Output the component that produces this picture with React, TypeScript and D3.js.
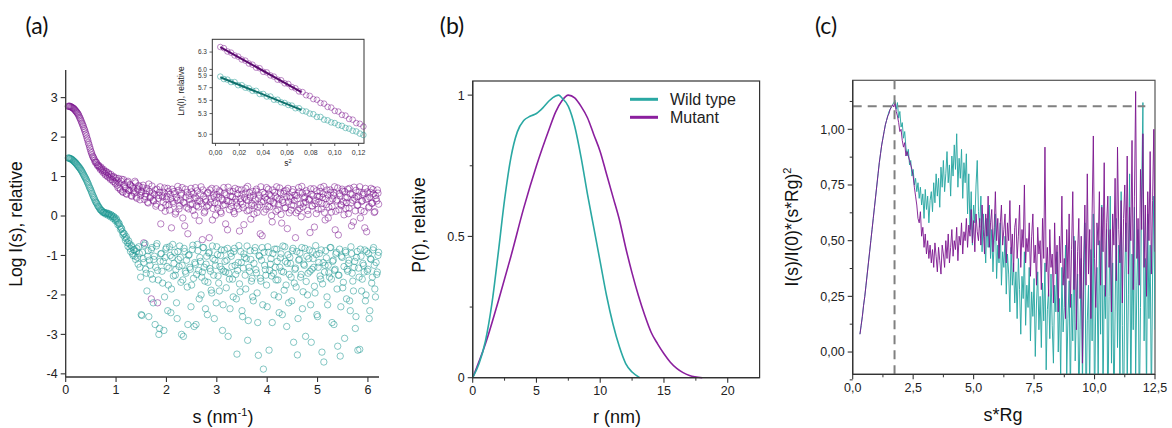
import React from "react";
import * as d3 from "d3";

// ---- data ----
// (a) SAXS curves, log I(s). Two interleaved frames:
// frame 1 at s = sStart + i * sStep, frame 2 at s = sStart2 + i * sStep
const sStart = 0.05;
const sStart2 = 0.0625;
const sStep = 0.025;
const mutantLogI = [
  2.78, 2.78, 2.77, 2.75, 2.73, 2.70, 2.66, 2.62, 2.57, 2.50, 2.43, 2.35, 2.27, 2.18, 2.08, 1.97, 1.86, 1.75, 1.64, 1.55,
  1.48, 1.41, 1.37, 1.30, 1.29, 1.22, 1.24, 1.15, 1.18, 1.08, 1.13, 1.02, 1.09, 0.97, 1.05, 0.92, 1.00, 0.86, 0.96,
  0.78, 0.95, 0.70, 0.88, 0.62, 0.92, 0.74, 0.57, 0.85, 0.66,
  0.80, 0.52, 0.74, 0.63, 0.88, 0.48, 0.69, 0.77, 0.41, 0.62,
  0.72, -0.68, 0.50, 0.64, 0.35, 0.81, 0.46, -2.10, 0.58, 0.38,
  0.66, 0.30, -2.20, 0.52, 0.74, 0.21, 0.48, 0.60, 0.12, 0.43,
  0.70, 0.28, 0.55, -0.30, 0.36, 0.62, 0.05, 0.47, 0.75, 0.18,
  0.40, 0.58, -0.05, 0.33, 0.68, 0.22, -0.45, 0.52, 0.29, 0.61,
  0.14, 0.45, 0.72, 0.26, 0.38, -0.12, 0.56, 0.31, 0.66, 0.08,
  0.42, 0.24, 0.60, -0.55, 0.35, 0.70, 0.19, 0.48, 0.02, 0.54,
  0.30, 0.64, 0.11, 0.44, 0.27, 0.58, -0.20, 0.39, 0.73, 0.16,
  0.50, 0.34, 0.62, 0.06, 0.43, 0.25, 0.67, -0.38, 0.36, 0.55,
  0.21, 0.47, 0.70, 0.13, 0.39, 0.59, -0.08, 0.32, 0.52, 0.26,
  0.63, 0.09, 0.45, 0.28, 0.74, -0.50, 0.37, 0.56, 0.17, 0.42,
  0.68, 0.23, 0.51, -0.15, 0.34, 0.60, 0.12, 0.46, 0.29, 0.71,
  0.04, 0.40, 0.57, 0.20, 0.65, -0.32, 0.37, 0.49, 0.15, 0.61,
  0.27, 0.53, 0.08, 0.44, 0.72, 0.19, -0.02, 0.58, 0.33, 0.48,
  0.64, 0.14, 0.41, -0.42, 0.55, 0.25, 0.69, 0.31, 0.06, 0.50,
  0.36, 0.62, 0.18, 0.47, 0.75, -0.10, 0.29, 0.54, 0.22, 0.66,
  0.10, 0.43, 0.59, -0.35, 0.38, 0.71, 0.16, 0.51, 0.26, 0.63,
  0.03, 0.46, 0.34, 0.68, 0.20, 0.57, -0.25, 0.40, 0.73, 0.13,
  0.49, 0.28, 0.61, -0.05, 0.37, 0.55, 0.11, 0.70, -0.40, 0.44,
  0.24, 0.60, 0.32, 0.67, 0.09, 0.52, 0.38, 0.58,
];
const mutantLogI2 = [
  2.78, 2.78, 2.76, 2.74, 2.72, 2.68, 2.64, 2.60, 2.54, 2.47, 2.39, 2.31, 2.22, 2.13, 2.03, 1.92, 1.81, 1.70, 1.60, 1.51,
  1.45, 1.36, 1.35, 1.27, 1.26, 1.18, 1.20, 1.11, 1.14, 1.04, 1.10, 0.99, 1.05, 0.93, 1.00, 0.88, 0.97, 0.82,
  0.90, 0.72, 0.84, 0.66, 0.93, 0.60, 0.80, 0.70, 0.55, 0.88,
  0.64, 0.78, 0.50, 0.70, 0.58, 0.84, 0.45, 0.66, 0.74, 0.52,
  0.60, 0.78, 0.42, 0.56, 0.70, 0.33, 0.62, 0.50, 0.76, 0.40,
  0.55, 0.25, 0.68, 0.45, 0.60, -0.20, 0.52, 0.35, 0.71, 0.28,
  0.50, 0.62, 0.15, 0.44, 0.68, 0.32, 0.57, 0.10, 0.40, 0.65,
  0.26, 0.53, 0.72, 0.35, -0.25, 0.48, 0.60, 0.18, 0.42, 0.70,
  0.31, 0.56, 0.02, 0.46, 0.64, 0.23, 0.38, 0.74, -0.60, 0.50,
  0.12, 0.36, 0.58, 0.27, 0.66, 0.44, -0.10, 0.52, 0.33, 0.69,
  0.20, 0.47, 0.61, 0.07, 0.40, 0.72, 0.29, 0.54, -0.35, 0.37,
  0.63, 0.24, 0.49, 0.11, 0.70, 0.35, 0.56, 0.18, 0.44, 0.66,
  0.30, -0.22, 0.58, 0.41, 0.75, 0.15, 0.48, 0.27, 0.62, 0.05,
  0.43, 0.68, 0.22, 0.53, -0.45, 0.36, 0.60, 0.10, 0.47, 0.72,
  0.25, 0.55, 0.38, 0.01, 0.66, 0.31, 0.50, 0.74, 0.16, 0.42,
  0.59, -0.18, 0.34, 0.63, 0.21, 0.48, 0.70, 0.08, 0.45, 0.28,
  0.67, 0.39, -0.55, 0.52, 0.14, 0.61, 0.30, 0.75, 0.23, 0.46,
  0.35, 0.58, 0.04, 0.43, 0.69, 0.26, 0.51, -0.28, 0.40, 0.64,
  0.17, 0.49, 0.72, 0.32, 0.56, 0.09, 0.44, 0.66, -0.05, 0.38,
  0.60, 0.24, 0.53, 0.74, 0.12, 0.41, -0.48, 0.57, 0.29, 0.68,
  0.36, 0.62, 0.19, 0.47, 0.06, 0.70, 0.33, 0.54, -0.15, 0.45,
  0.65, 0.27, 0.50, 0.74, 0.14, 0.39, 0.59, -0.30, 0.42, 0.61,
  0.21, 0.48, 0.70, 0.33, 0.56, 0.11, 0.44, 0.66, 0.30,
];
const wildLogI = [
  1.47, 1.46, 1.45, 1.43, 1.40, 1.37, 1.34, 1.30, 1.26, 1.22, 1.17, 1.12, 1.06, 1.00, 0.94, 0.87, 0.80, 0.72, 0.65, 0.57,
  0.49, 0.42, 0.35, 0.30, 0.24, 0.19, 0.15, 0.12, 0.10, 0.08, 0.07, 0.05, 0.06, 0.02, 0.03, -0.02, -0.01, -0.08, -0.06, -0.15,
  -0.17, -0.26, -0.30, -0.40, -0.44, -0.55, -0.52, -0.68, -0.63, -0.82, -0.74, -0.95, -0.86, -1.02, -0.90,
  -1.05, -0.78, -1.30, -2.50, -0.92, -1.18, -0.70, -1.45, -1.02, -2.55,
  -1.25, -0.85, -1.60, -1.10, -2.75, -0.76, -1.38, -3.00, -1.15, -0.95,
  -1.70, -2.90, -1.05, -0.80, -2.40, -1.32, -1.00, -1.85, -0.72, -1.20,
  -1.50, -2.20, -0.90, -1.28, -1.05, -3.00, -1.62, -0.82, -1.40, -1.12,
  -2.75, -0.98, -1.35, -1.75, -0.74, -2.80, -1.22, -1.48, -0.88, -2.10,
  -1.15, -1.55, -0.80, -1.30, -2.35, -1.02, -1.68, -0.92, -1.40, -1.95,
  -1.08, -2.60, -1.25, -0.78, -1.52, -1.90, -1.00, -1.35, -2.25, -0.86,
  -1.42, -1.12, -3.05, -1.60, -0.95, -1.28, -2.05, -0.82, -1.48, -3.50,
  -1.18, -1.72, -0.90, -2.40, -1.32, -1.05, -1.85, -0.76, -2.65, -1.40,
  -1.10, -1.58, -2.15, -0.88, -1.36, -1.95, -3.53, -1.02, -1.65, -0.80,
  -3.88, -1.25, -1.50, -2.30, -0.92, -1.38, -1.08, -2.70, -1.45, -0.84,
  -1.62, -1.15, -2.05, -1.30, -0.96, -2.50, -1.42, -0.78, -1.75, -1.20,
  -2.20, -1.05, -1.55, -0.88, -3.20, -1.35, -1.80, -3.52, -1.12, -0.94,
  -1.48, -2.35, -1.22, -0.82, -1.66, -2.00, -1.08, -1.40, -3.20, -0.90,
  -1.30, -1.95, -0.98, -2.55, -1.18, -1.52, -0.86, -1.72, -3.70, -1.25,
  -1.06, -2.25, -1.44, -0.80, -1.60, -1.15, -2.75, -1.35, -0.92, -3.30,
  -1.50, -3.55, -1.02, -1.82, -1.28, -0.88, -2.10, -1.40, -1.12, -2.40,
  -0.95, -1.65, -1.30, -2.85, -1.05, -3.40, -1.55, -0.84, -1.90, -1.20,
  -1.42, -2.15, -0.90, -1.35, -2.60, -1.08, -1.70, -0.86, -1.25, -2.05,
  -1.48, -1.00,
];
const wildLogI2 = [
  1.47, 1.46, 1.44, 1.42, 1.39, 1.36, 1.32, 1.28, 1.24, 1.20, 1.15, 1.09, 1.03, 0.97, 0.91, 0.84, 0.76, 0.69, 0.61, 0.53,
  0.46, 0.38, 0.33, 0.26, 0.22, 0.16, 0.14, 0.09, 0.09, 0.05, 0.08, 0.02, 0.05, -0.02, 0.02, -0.06, -0.03, -0.12, -0.10, -0.22,
  -0.20, -0.34, -0.33, -0.48, -0.45, -0.62, -0.58, -0.77, -0.70, -0.90, -0.78, -1.00, -0.85, -1.10,
  -0.82, -1.22, -0.95, -1.55, -2.52, -1.08, -0.74, -1.35, -1.90, -0.88,
  -1.12, -1.48, -0.80, -2.20, -1.02, -1.30, -0.70, -1.62, -2.85, -0.96,
  -1.40, -1.15, -2.05, -0.84, -1.28, -1.75, -0.78, -2.45, -1.05, -1.52,
  -0.92, -1.36, -2.60, -1.10, -0.76, -1.68, -1.25, -3.05, -0.90, -1.45,
  -1.80, -1.00, -1.30, -2.30, -0.85, -1.58, -1.18, -2.75, -0.72, -1.38,
  -1.05, -2.00, -1.42, -0.80, -1.65, -1.22, -2.50, -0.94, -1.33, -1.88,
  -0.76, -1.50, -1.12, -2.20, -0.98, -1.70, -1.28, -0.86, -2.90, -1.40,
  -1.15, -1.82, -0.82, -1.45, -2.35, -1.02, -1.60, -0.90, -1.25, -2.10,
  -1.38, -0.75, -1.92, -1.18, -2.55, -0.96, -1.50, -1.08, -3.15, -1.30,
  -0.88, -1.65, -2.05, -1.20, -0.80, -1.44, -2.70, -1.00, -1.58, -1.12,
  -2.25, -0.92, -1.36, -1.75, -0.78, -3.40, -1.22, -1.52, -0.95, -2.00,
  -1.30, -0.84, -1.62, -2.45, -1.06, -1.40, -0.76, -1.88, -1.15, -2.80,
  -0.98, -1.48, -1.20, -2.15, -0.82, -1.70, -1.32, -0.90, -2.60, -1.10,
  -1.55, -0.80, -1.92, -1.25, -3.05, -1.02, -1.45, -0.86, -2.25, -1.35,
  -1.08, -1.78, -0.75, -2.50, -1.30, -0.95, -1.60, -3.45, -1.18, -1.42,
  -0.88, -2.05, -1.25, -1.55, -0.80, -2.70, -1.12, -1.38, -0.96, -1.85,
  -1.50, -0.84, -2.30, -1.05, -1.68, -3.10, -0.92, -1.35, -1.20, -2.15,
  -0.78, -1.45, -1.90, -1.15, -2.55, -0.90, -1.32, -3.38, -1.02, -1.60,
  -1.25, -0.86, -2.00, -1.40, -0.95, -2.40, -1.10, -1.55, -0.80, -1.85,
  -1.18, -1.42, -0.92,
];
const aXTicks = [0, 1, 2, 3, 4, 5, 6];
const aYTicks = [-4, -3, -2, -1, 0, 1, 2, 3];

// (a) inset: Guinier plot, s² = gStart + i * gStep
const gStart = 0.004;
const gStep = 0.003;
const mutantGuinier = [
  6.39, 6.37, 6.31, 6.29, 6.24, 6.22, 6.17, 6.15, 6.10, 6.08, 6.03, 6.02, 5.96, 5.95, 5.90, 5.88, 5.83, 5.82, 5.77, 5.76,
  5.71, 5.69, 5.64, 5.63, 5.58, 5.57, 5.52, 5.51, 5.46, 5.45, 5.40, 5.39, 5.34, 5.33, 5.28, 5.27, 5.22, 5.21, 5.16, 5.15, 5.11,
];
const wildGuinier = [
  5.88, 5.84, 5.83, 5.79, 5.79, 5.74, 5.74, 5.70, 5.69, 5.65, 5.65, 5.60, 5.60, 5.56, 5.56, 5.51, 5.51, 5.47, 5.46, 5.43,
  5.42, 5.38, 5.38, 5.34, 5.33, 5.30, 5.29, 5.25, 5.25, 5.21, 5.20, 5.17, 5.16, 5.13, 5.12, 5.09, 5.08, 5.05, 5.04, 5.01, 4.99,
];
const guinierFitS2 = [0.004, 0.072];
const mutantFit = [6.39, 5.63];
const wildFit = [5.87, 5.355];
const insetXTicks = [0, 0.02, 0.04, 0.06, 0.08, 0.1, 0.12];
const insetYTicks = [5.0, 5.3, 5.5, 5.7, 5.9, 6.0, 6.3];

// (b) distance distribution
const wildR = [0, 0.5, 1, 1.5, 2, 2.5, 3, 3.5, 4, 4.5, 5, 5.5, 6, 6.5, 6.75, 7, 7.5, 8, 8.5, 9, 9.5, 10, 10.5, 11, 11.5, 12, 12.5, 13.1];
const wildP = [0, 0.05, 0.13, 0.26, 0.44, 0.63, 0.78, 0.87, 0.91, 0.925, 0.935, 0.955, 0.98, 0.997, 1.0, 0.99, 0.96, 0.89, 0.78, 0.65, 0.53, 0.41, 0.29, 0.19, 0.11, 0.05, 0.02, 0];
const mutantR = [0, 1, 2, 3, 4, 5, 6, 6.5, 7, 7.5, 8, 8.5, 9, 9.5, 10, 10.5, 11, 11.5, 12, 12.5, 13, 13.5, 14, 14.5, 15, 15.5, 16, 16.5, 17, 18];
const mutantP = [0, 0.12, 0.27, 0.43, 0.6, 0.75, 0.88, 0.94, 0.98, 1.0, 0.99, 0.96, 0.92, 0.86, 0.8, 0.72, 0.64, 0.56, 0.46, 0.37, 0.29, 0.22, 0.16, 0.12, 0.085, 0.055, 0.033, 0.018, 0.008, 0];
const bXTicks = [0, 5, 10, 15, 20];
const bXMinor = [2.5, 7.5, 12.5, 17.5];
const bYTicks = [0, 0.5, 1];
const bYMinor = [0.25, 0.75];

// (c) dimensionless Kratky, sRg = kStart + i * kStep
const kStart = 0.3;
const kStep = 0.05;
const wildKratky = [
  0.08, 0.12, 0.16, 0.21, 0.25, 0.30, 0.35, 0.40, 0.45, 0.50, 0.55, 0.60, 0.65, 0.70, 0.75, 0.80, 0.85, 0.89, 0.93, 0.96,
  0.99, 1.02, 1.04, 1.06, 1.08, 1.09, 1.10, 1.11, 1.12,
  1.13, 1.09, 1.12, 1.05, 1.08, 1.01, 1.03, 0.96, 0.99, 0.92,
  0.88, 0.91, 0.84, 0.86, 0.79, 0.82, 0.75, 0.78, 0.72, 0.76,
  0.69, 0.74, 0.66, 0.71, 0.60, 0.73, 0.64, 0.70, 0.58, 0.68,
  0.72, 0.63, 0.76, 0.67, 0.80, 0.70, 0.78, 0.65, 0.83, 0.74,
  0.86, 0.72, 0.80, 0.90, 0.76, 0.84, 0.70, 0.88, 0.79, 0.93,
  0.82, 0.98, 0.74, 0.87, 0.78, 0.91, 0.69, 0.85, 0.76, 0.89,
  0.62, 0.80, 0.55, 0.72, 0.48, 0.66, 0.58, 0.75, 0.86, 0.63,
  0.56, 0.70, 0.45, 0.62, 0.52, 0.40, 0.60, 0.47, 0.66, 0.42,
  0.55, 0.36, 0.50, 0.62, 0.33, 0.48, 0.40, 0.58, 0.30, 0.45,
  0.38, 0.52, 0.26, 0.44, 0.35, 0.18, 0.47, 0.30, 0.40, 0.22,
  0.36, 0.15, 0.42, 0.28, 0.08, 0.34, 0.24, 0.45, 0.12, 0.30,
  0.20, 0.38, 0.05, 0.27, 0.16, 0.33, -0.02, 0.22, 0.36, 0.10,
  0.25, 0.02, 0.31, 0.14, 0.40, -0.08, 0.19, 0.28, 0.06, 0.35,
  0.12, -0.05, 0.30, 0.18, 0.45, 0.00, 0.24, -0.12, 0.38, 0.09,
  0.20, 0.48, -0.10, 0.15, 0.32, -0.20, 0.26, 0.05, 0.52, -0.04,
  0.18, 0.35, -0.25, 0.10, 0.42, -0.15, 0.28, 0.58, -0.30, 0.14,
  0.30, -0.18, 0.46, 0.05, 0.62, -0.28, 0.22, 0.38, -0.12, 0.50,
  0.08, 0.66, -0.22, 0.30, 0.15, 0.55, -0.35, 0.25, 0.70, -0.05,
  0.40, -0.30, 0.18, 0.60, 0.02, 0.48, -0.20, 0.72, 0.12, -0.38,
  0.35, 0.58, -0.15, 0.26, 0.80, -0.28, 0.44, 0.10, 0.65, -0.10,
  0.30, 0.55, -0.32, 0.20, 0.75, 1.12, 0.05, 0.42, -0.20, 0.62,
  0.15, 0.48, -0.25, 0.35, 0.70, 0.10,
];
const mutantKratky = [
  0.08, 0.12, 0.16, 0.21, 0.25, 0.30, 0.35, 0.40, 0.45, 0.50, 0.55, 0.60, 0.65, 0.70, 0.75, 0.80, 0.85, 0.89, 0.93, 0.96,
  0.99, 1.02, 1.04, 1.06, 1.07, 1.09, 1.10, 1.11, 1.10,
  1.12, 1.08, 1.06, 1.03, 0.99, 1.00, 0.95, 0.92, 0.94, 0.88,
  0.90, 0.88, 0.86, 0.84, 0.82, 0.79, 0.74, 0.70, 0.66, 0.60,
  0.58, 0.63, 0.52, 0.56, 0.47, 0.53, 0.44, 0.50, 0.42, 0.48,
  0.40, 0.46, 0.38, 0.49, 0.43, 0.36, 0.47, 0.41, 0.35, 0.48,
  0.44, 0.38, 0.50, 0.42, 0.53, 0.40, 0.47, 0.55, 0.43, 0.50,
  0.46, 0.56, 0.41, 0.52, 0.48, 0.58, 0.44, 0.54, 0.50, 0.60,
  0.47, 0.57, 0.52, 0.64, 0.49, 0.59, 0.45, 0.62, 0.54, 0.50,
  0.60, 0.48, 0.66, 0.55, 0.44, 0.62, 0.52, 0.70, 0.47, 0.58,
  0.64, 0.45, 0.56, 0.72, 0.50, 0.60, 0.42, 0.57, 0.66, 0.48,
  0.55, 0.62, 0.40, 0.58, 0.50, 0.68, 0.44, 0.53, 0.36, 0.56,
  0.60, 0.42, 0.52, 0.66, 0.38, 0.55, 0.47, 0.75, 0.40, 0.51,
  0.45, 0.58, 0.34, 0.52, 0.62, 0.40, 0.48, 0.30, 0.56, 0.44,
  0.50, 0.28, 0.60, 0.42, 0.92, 0.36, 0.47, 0.25, 0.55, 0.38,
  0.44, 0.22, 0.58, 0.35, 0.48, 0.18, 0.52, 0.40, 0.70, 0.30,
  0.42, 0.15, 0.55, 0.33, 0.62, 0.20, 0.46, 0.72, 0.28, 0.50,
  0.10, 0.45, 0.60, 0.24, 0.52, -0.05, 0.40, 0.66, 0.30, 0.80,
  0.35, 0.55, 0.15, 0.62, 0.97, 0.42, 0.20, 0.58, 0.48, 0.72,
  0.30, 0.65, 0.45, 0.85, 0.25, 0.58, 0.70, 0.38, 0.55, 0.18,
  0.62, 0.48, 0.78, 0.32, 0.92, 0.55, 0.40, 0.68, 0.22, 0.60,
  0.75, 0.45, 0.88, 0.35, 0.65, 0.50, 0.95, 0.28, 0.70, 1.17,
  0.42, 0.60, 0.30, 0.82, 0.55, 0.98, 0.38, 0.66, 0.25, 0.72,
  0.50, 0.90, 0.35, 0.68, 1.00, 0.45,
];
const kratkyPeakX = [1.73];
const kratkyPeakY = [1.104];
const cXTicks = [0, 2.5, 5, 7.5, 10, 12.5];
const cXMinor = [1.25, 3.75, 6.25, 8.75, 11.25];
const cYTicks = [0, 0.25, 0.5, 0.75, 1];
const cYMinor = [-0.125, 0.125, 0.375, 0.625, 0.875, 1.125];

// ---- style ----
const TEAL = "#1a9691";
const TEAL_LINE = "#2aa8a3";
const PURPLE = "#7c168f";
const PURPLE_LINE = "#8b1f9e";
const AXIS = "#333";
const FONT = "'Liberation Sans', Arial, sans-serif";

const comma = (d: number, p: number) => d.toFixed(p).replace(".", ",");

function YAxis({ scale, x, ticks, minor = [], fmt, size = 12.5, len = 5 }: any) {
  const [y0, y1] = scale.range();
  return (
    <g>
      <line x1={x} x2={x} y1={y0} y2={y1} stroke={AXIS} strokeWidth={1.3} />
      {ticks.map((t: number) => (
        <g key={t}>
          <line x1={x - len} x2={x} y1={scale(t)} y2={scale(t)} stroke={AXIS} strokeWidth={1.1} />
          <text x={x - len - 3} y={scale(t)} dy="0.35em" textAnchor="end" fontSize={size} fill="#222">{fmt(t)}</text>
        </g>
      ))}
      {minor.map((t: number) => (
        <line key={"m" + t} x1={x - len * 0.6} x2={x} y1={scale(t)} y2={scale(t)} stroke={AXIS} strokeWidth={1} />
      ))}
    </g>
  );
}

function XAxis({ scale, y, ticks, minor = [], fmt, size = 12.5, len = 5, gap = 13 }: any) {
  const [x0, x1] = scale.range();
  return (
    <g>
      <line x1={x0} x2={x1} y1={y} y2={y} stroke={AXIS} strokeWidth={1.3} />
      {ticks.map((t: number) => (
        <g key={t}>
          <line x1={scale(t)} x2={scale(t)} y1={y} y2={y + len} stroke={AXIS} strokeWidth={1.1} />
          <text x={scale(t)} y={y + gap} dy="0.35em" textAnchor="middle" fontSize={size} fill="#222">{fmt(t)}</text>
        </g>
      ))}
      {minor.map((t: number) => (
        <line key={"m" + t} x1={scale(t)} x2={scale(t)} y1={y} y2={y + len * 0.6} stroke={AXIS} strokeWidth={1} />
      ))}
    </g>
  );
}

export default function App() {
  // (a)
  const xA = d3.scaleLinear().domain([0, 6.22]).range([65.7, 379]);
  const yA = d3.scaleLinear().domain([-4.08, 3.7]).range([377, 70]);
  const frames = [
    { vals: mutantLogI, start: sStart, color: PURPLE, key: "m1" },
    { vals: mutantLogI2, start: sStart2, color: PURPLE, key: "m2" },
    { vals: wildLogI, start: sStart, color: TEAL, key: "w1" },
    { vals: wildLogI2, start: sStart2, color: TEAL, key: "w2" },
  ];

  // inset
  const xI = d3.scaleLinear().domain([-0.0027, 0.1245]).range([212.3, 364]);
  const yI = d3.scaleLog().domain([4.875, 6.53]).range([143.3, 39.3]);
  const gOf = (i: number) => gStart + i * gStep;

  // (b)
  const xB = d3.scaleLinear().domain([0, 22.5]).range([472.7, 759.6]);
  const yB = d3.scaleLinear().domain([0, 1.05]).range([377.7, 81]);
  const prLine = d3.line<number>().curve(d3.curveMonotoneX);
  const wildPath = prLine(wildR.map((r, i) => [xB(r), yB(wildP[i])]) as any);
  const mutantPath = prLine(mutantR.map((r, i) => [xB(r), yB(mutantP[i])]) as any);

  // (c)
  const xC = d3.scaleLinear().domain([0, 12.5]).range([852.7, 1155]);
  const yC = d3.scaleLinear().domain([-0.1, 1.22]).range([374.3, 80.3]);
  const kLine = d3.line<number>().x((_, i) => xC(kStart + i * kStep)).y((d) => yC(d));

  return (
    <svg width={1172} height={428} style={{ position: "absolute", left: 0, top: 0, background: "#fff" }} fontFamily={FONT}>
      <defs>
        <clipPath id="clipC">
          <rect x={xC(0)} y={yC(1.22)} width={xC(12.5) - xC(0)} height={yC(-0.1) - yC(1.22)} />
        </clipPath>
      </defs>

      {/* panel labels */}
      <text x={37} y={34} textAnchor="middle" fontSize={23} fontFamily="Lato, 'Open Sans', sans-serif" fill="#111">(a)</text>
      <text x={452} y={34} textAnchor="middle" fontSize={23} fontFamily="Lato, 'Open Sans', sans-serif" fill="#111">(b)</text>
      <text x={826} y={34} textAnchor="middle" fontSize={23} fontFamily="Lato, 'Open Sans', sans-serif" fill="#111">(c)</text>

      {/* ---------- (a) ---------- */}
      <g fill="none" strokeWidth={0.75}>
        {frames.map((f) =>
          f.vals.map((v, i) => (
            <circle key={f.key + i} cx={xA(f.start + i * sStep)} cy={yA(v)} r={3.2} stroke={f.color} strokeOpacity={0.7} />
          ))
        )}
      </g>
      <YAxis scale={yA} x={65.7} ticks={aYTicks} fmt={(d: number) => String(d)} />
      <XAxis scale={xA} y={377} ticks={aXTicks} fmt={(d: number) => String(d)} />
      <text transform="translate(22,224) rotate(-90)" textAnchor="middle" fontSize={17.5} fill="#111">Log I(s), relative</text>
      <text x={223} y={423} textAnchor="middle" fontSize={18} fill="#111">
        s (nm<tspan dy={-7} fontSize={11}>-1</tspan><tspan dy={7}>)</tspan>
      </text>

      {/* inset */}
      <rect x={212.3} y={39.3} width={364 - 212.3} height={143.3 - 39.3} fill="#fff" stroke={AXIS} strokeWidth={1} />
      <g fill="none" strokeWidth={0.7}>
        {mutantGuinier.map((v, i) => (
          <circle key={"gm" + i} cx={xI(gOf(i))} cy={yI(v)} r={2.8} stroke={PURPLE} strokeOpacity={0.7} />
        ))}
        {wildGuinier.map((v, i) => (
          <circle key={"gw" + i} cx={xI(gOf(i))} cy={yI(v)} r={2.8} stroke={TEAL} strokeOpacity={0.7} />
        ))}
      </g>
      <line x1={xI(guinierFitS2[0])} x2={xI(guinierFitS2[1])} y1={yI(mutantFit[0])} y2={yI(mutantFit[1])} stroke="#5a0a6e" strokeWidth={2} />
      <line x1={xI(guinierFitS2[0])} x2={xI(guinierFitS2[1])} y1={yI(wildFit[0])} y2={yI(wildFit[1])} stroke="#0f6f6b" strokeWidth={2} />
      {insetYTicks.map((t) => (
        <g key={"iy" + t}>
          <line x1={209.5} x2={212.3} y1={yI(t)} y2={yI(t)} stroke={AXIS} strokeWidth={0.8} />
          <text x={207} y={yI(t)} dy="0.35em" textAnchor="end" fontSize={6.5} fill="#333">{t.toFixed(1)}</text>
        </g>
      ))}
      {insetXTicks.map((t) => (
        <g key={"ix" + t}>
          <line x1={xI(t)} x2={xI(t)} y1={143.3} y2={146} stroke={AXIS} strokeWidth={0.8} />
          <text x={xI(t)} y={153} dy="0.35em" textAnchor="middle" fontSize={7} fill="#333">{comma(t, 2)}</text>
        </g>
      ))}
      <text transform="translate(184,91) rotate(-90)" textAnchor="middle" fontSize={8.5} fill="#222">Ln(I), relative</text>
      <text x={288} y={166} textAnchor="middle" fontSize={8.5} fill="#222">
        s<tspan dy={-3.5} fontSize={5.5}>2</tspan>
      </text>

      {/* ---------- (b) ---------- */}
      <rect x={472.7} y={81} width={759.6 - 472.7} height={377.7 - 81} fill="none" stroke={AXIS} strokeWidth={1.2} />
      <path d={mutantPath || ""} fill="none" stroke={PURPLE_LINE} strokeWidth={1.6} />
      <path d={wildPath || ""} fill="none" stroke={TEAL_LINE} strokeWidth={1.6} />
      <YAxis scale={yB} x={472.7} ticks={bYTicks} minor={bYMinor} fmt={(d: number) => String(d)} />
      <XAxis scale={xB} y={377.7} ticks={bXTicks} minor={bXMinor} fmt={(d: number) => String(d)} />
      <text transform="translate(425,225) rotate(-90)" textAnchor="middle" fontSize={17.5} fill="#111">P(r), relative</text>
      <text x={617} y={423} textAnchor="middle" fontSize={18} fill="#111">r (nm)</text>
      <line x1={630} x2={658} y1={99.3} y2={99.3} stroke={TEAL_LINE} strokeWidth={3} />
      <text x={670} y={105} fontSize={16} fill="#222">Wild type</text>
      <line x1={630} x2={658} y1={117.3} y2={117.3} stroke={PURPLE_LINE} strokeWidth={3} />
      <text x={670} y={123} fontSize={16} fill="#222">Mutant</text>

      {/* ---------- (c) ---------- */}
      <rect x={852.7} y={80.3} width={1155 - 852.7} height={374.3 - 80.3} fill="none" stroke="#555" strokeWidth={1.2} />
      <g clipPath="url(#clipC)" fill="none">
        <path d={kLine(wildKratky) || ""} stroke={TEAL_LINE} strokeWidth={1} strokeOpacity={0.95} />
        <path d={kLine(mutantKratky) || ""} stroke={PURPLE} strokeWidth={1} strokeOpacity={0.9} />
      </g>
      {kratkyPeakX.map((v) => (
        <line key={"vx" + v} x1={xC(v)} x2={xC(v)} y1={yC(1.22)} y2={yC(-0.1)} stroke="#808080" strokeWidth={2} strokeDasharray="9,6" />
      ))}
      {kratkyPeakY.map((v) => (
        <line key={"hy" + v} x1={xC(0)} x2={xC(12.1)} y1={yC(v)} y2={yC(v)} stroke="#808080" strokeWidth={2} strokeDasharray="9,6" />
      ))}
      <YAxis scale={yC} x={852.7} ticks={cYTicks} minor={cYMinor} fmt={(d: number) => comma(d, 2)} />
      <XAxis scale={xC} y={374.3} ticks={cXTicks} minor={cXMinor} fmt={(d: number) => comma(d, 1)} />
      <text transform="translate(798,227) rotate(-90)" textAnchor="middle" fontSize={17.5} fill="#111">
        I(s)/I(0)*(s*Rg)<tspan dy={-7} fontSize={11}>2</tspan>
      </text>
      <text x={1003} y={421} textAnchor="middle" fontSize={18} fill="#111">s*Rg</text>
    </svg>
  );
}
